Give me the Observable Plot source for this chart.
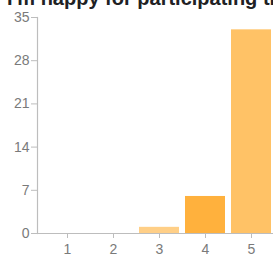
<!DOCTYPE html>
<html><head><meta charset="utf-8">
<script src="https://cdn.jsdelivr.net/npm/d3@7"></script>
<script src="https://cdn.jsdelivr.net/npm/@observablehq/plot@0.6"></script>
<style>
body{margin:0;background:#fff;overflow:hidden;}
#wrap{position:relative;width:273px;height:257px;overflow:hidden;}
#title{position:absolute;left:7px;top:-12px;font:bold 20px "Liberation Sans",Arial,sans-serif;line-height:20px;color:#202124;white-space:nowrap;}
</style></head><body>
<div id="wrap"><div id="title">I'm happy for participating this survey</div><div id="chart"></div></div>
<script>
const categories = ["1","2","3","4","5"];
const counts = [0,0,1,6,33];
const colors = ["#ffc266","#ffc266","#ffcf87","#ffb13d","#ffc266"];
const yTicks = [0,7,14,21,28,35];
const data = categories.map((c,i)=>({cat:c, n:counts[i], color:colors[i]}));
const gray = "#bdbdbd";
const chart = Plot.plot({
  width: 273, height: 257,
  marginTop: 17, marginBottom: 24, marginLeft: 37, marginRight: 0,
  style: {fontFamily: '"Liberation Sans", Arial, sans-serif', fontSize: "14px", background: "transparent"},
  x: {domain: categories, range: [43, 274], padding: 0.14, paddingOuter: 0.07, label: null},
  y: {domain: [0, 35], label: null},
  marks: [
    Plot.barY(data, {x: "cat", y: "n", fill: "color"}),
    Plot.ruleY([0], {stroke: gray, strokeWidth: 1.2}),
    Plot.frame({anchor: "left", stroke: gray, strokeWidth: 1.2}),
    Plot.axisY({ticks: yTicks, tickSize: 6, tickPadding: 2, stroke: gray, color: "#7a7a7a", label: null}),
    Plot.axisX({tickSize: 5, tickPadding: 6, stroke: gray, color: "#7a7a7a", label: null})
  ]
});
document.getElementById("chart").appendChild(chart);
</script>
</body></html>
